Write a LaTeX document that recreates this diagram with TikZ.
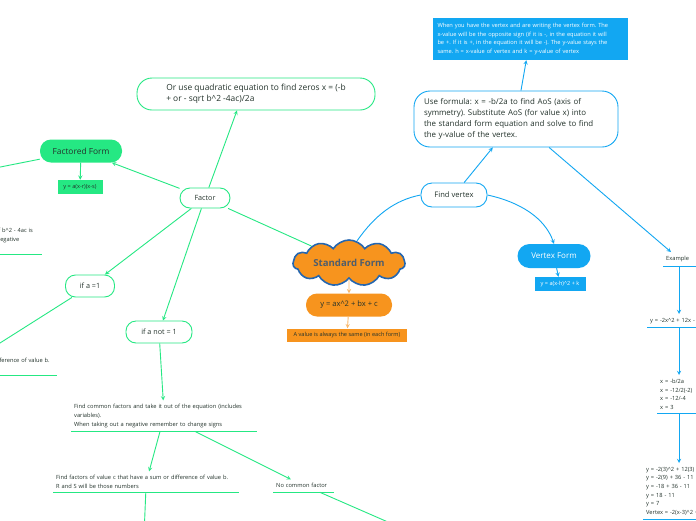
\documentclass[tikz,border=0pt]{standalone}
\usepackage{fontspec}
\setmainfont{Open Sans}
\usepackage{tikz}
\usetikzlibrary{shapes.symbols}
\definecolor{mapgreen}{HTML}{25E883}
\definecolor{mapblue}{HTML}{12A7F2}
\definecolor{maporange}{HTML}{F7941E}
\definecolor{mapedge}{HTML}{2466B0}
\definecolor{mapink}{HTML}{24332C}
\definecolor{mapgrey}{HTML}{4E5D6C}
\frenchspacing

\begin{document}
\begin{tikzpicture}[x=1pt,y=-1pt,
  gbox/.style={rectangle,draw=mapgreen,line width=0.9pt,fill=white,
    rounded corners=10pt,text=mapink,font=\fontsize{7.2}{9}\selectfont,inner sep=2pt},
  gfill/.style={rectangle,fill=mapgreen,rounded corners=11pt,text=mapink,
    font=\fontsize{8.4}{9}\selectfont,inner sep=2pt},
  bbox/.style={rectangle,draw=mapblue,line width=0.9pt,fill=white,
    rounded corners=11pt,text=mapink,inner sep=2pt},
  bfill/.style={rectangle,fill=mapblue,rounded corners=11pt,text=white,inner sep=2pt},
  obox/.style={rectangle,fill=maporange,rounded corners=11pt,text=mapink,inner sep=2pt},
  leaf/.style={rectangle,align=left,text=mapink,font=\fontsize{5.7}{8.6}\selectfont,
    inner xsep=3pt,inner ysep=4pt},
  gleaf/.style={leaf,append after command={(\tikzlastnode.south west)
    edge[draw=mapgreen,line width=0.9pt] (\tikzlastnode.south east)}},
  bleaf/.style={leaf,append after command={(\tikzlastnode.south west)
    edge[draw=mapblue,line width=0.9pt] (\tikzlastnode.south east)}},
  garr/.style={->,>=stealth,draw=mapgreen,line width=0.9pt},
  gline/.style={draw=mapgreen,line width=0.9pt},
  barr/.style={->,>=stealth,draw=mapblue,line width=0.9pt},
  bline/.style={draw=mapblue,line width=0.9pt},
  oarr/.style={->,>=stealth,draw=maporange!65,line width=0.9pt}]

  \path[use as bounding box,fill=white] (0,0) rectangle (696,520);
  \clip (0,0) rectangle (696,520);

  \node[cloud,cloud puffs=11,cloud puff arc=115,cloud ignores aspect,
    minimum width=112pt,minimum height=46pt,inner sep=0pt,
    fill=maporange,draw=mapedge,line width=1.6pt,text=mapgrey,
    font=\fontsize{9.6}{11}\selectfont\bfseries] (std) at (349,263) {Standard Form};
  \node[obox,font=\fontsize{7.6}{9}\selectfont,minimum width=86pt,minimum height=23pt] (seq) at (349,305) {y = ax\textasciicircum 2 + bx + c};
  \node[obox,rounded corners=0pt,font=\fontsize{5.6}{7}\selectfont,minimum width=120pt,minimum height=13pt] (sval) at (347,335) {A value is always the same (in each form)};

  \node[bfill,rounded corners=0pt,font=\fontsize{5.7}{8.6}\selectfont,
    minimum width=195pt,minimum height=42pt,text width=185pt,align=left] (vnote) at (530,39)
    {When you have the vertex and are writing the vertex form. The\\
     x-value will be the opposite sign (if it is -, in the equation it will\\
     be +. If it is +, in the equation it will be -). The y-value stays the\\
     same. h = x-value of vertex and k = y-value of vertex};
  \node[bbox,rounded corners=16pt,font=\fontsize{7.9}{11}\selectfont,
    minimum width=204pt,minimum height=56pt,text width=184pt,align=left] (useform) at (516,119)
    {Use formula: x = -b/2a to find AoS (axis of\\
     symmetry). Substitute AoS (for value x) into\\
     the standard form equation and solve to find\\
     the y-value of the vertex.};
  \node[bbox,font=\fontsize{7.6}{9}\selectfont,minimum width=66pt,minimum height=24pt] (findv) at (454,195) {Find vertex};
  \node[bfill,rounded corners=12pt,font=\fontsize{8}{9}\selectfont,minimum width=73pt,minimum height=24pt] (vform) at (554,256) {Vertex Form};
  \node[bfill,rounded corners=0pt,font=\fontsize{5.6}{7}\selectfont,minimum width=51pt,minimum height=14pt] (vformeq) at (560,284) {y = a(x-h)\textasciicircum 2 + k};

  \node[bleaf,text width=60pt,anchor=north west] (example) at (663,252) {Example};
  \node[bleaf,text width=70pt,anchor=north west] (ex1) at (647,314) {y = -2x\textasciicircum 2 + 12x - 11};
  \node[bleaf,text width=60pt,anchor=north west] (ex2) at (657,375)
    {x = -b/2a\\x = -12/2(-2)\\x = -12/-4\\x = 3};
  \node[bleaf,text width=70pt,anchor=north west] (ex3) at (643,463)
    {y = -2(3)\textasciicircum 2 + 12(3) - 11\\y = -2(9) + 36 - 11\\y = -18 + 36 - 11\\
     y = 18 - 11\\y = 7\\Vertex = -2(x-3)\textasciicircum 2 + 7};

  \node[gbox,minimum width=50pt,minimum height=20pt] (factor) at (205,198) {Factor};
  \node[gbox,rounded corners=15pt,font=\fontsize{8.4}{11.5}\selectfont,align=left,
    minimum width=238pt,minimum height=32pt] (quad) at (256,94)
    {Or use quadratic equation to find zeros x = (-b\\+ or - sqrt b\textasciicircum 2 -4ac)/2a};
  \node[gfill,minimum width=82pt,minimum height=23pt] (ff) at (81,151) {Factored Form};
  \node[gfill,rounded corners=0pt,font=\fontsize{5.6}{7}\selectfont,minimum width=45pt,minimum height=14pt] (ffeq) at (80,187) {y = a(x-r)(x-s)};
  \node[gleaf,text width=42pt,anchor=north east] (negleaf) at (42,224)
    {If b\textasciicircum 2 - 4ac is\\negative\\\mbox{}};
  \node[gbox,minimum width=49pt,minimum height=22pt] (ifone) at (90,286) {if a =1};
  \node[gbox,minimum width=66pt,minimum height=22pt] (ifnot) at (159,332) {if a not = 1};
  \node[gleaf,text width=176pt,anchor=north east] (diffleaf) at (57,354)
    {Find factors of value c that have a sum or difference of value b.\\R and S will be those numbers};
  \node[gleaf,text width=180pt,anchor=north west] (fcommon) at (71,400.4)
    {Find common factors and take it out of the equation (includes\\variables).\\
     When taking out a negative remember to change signs};
  \node[gleaf,text width=180pt,anchor=north west] (ffact) at (53,471.4)
    {Find factors of value c that have a sum or difference of value b.\\R and S will be those numbers};
  \node[gleaf,text width=55pt,anchor=north west] (nocommon) at (273,479.4) {No common factor};

  \coordinate (ffout) at (-40,175);
  \coordinate (oneout) at (-30,362);
  \coordinate (factout) at (143,560);
  \coordinate (noneout) at (420,536);

  \draw[gline] (std) -- (factor);
  \draw[garr] (factor) -- ([xshift=-19pt]quad.south);
  \draw[garr] (factor) -- (ff);
  \draw[garr] (factor) -- (ifone);
  \draw[garr] (factor) -- (ifnot);
  \draw[garr] (ff) -- (ffeq);
  \draw[garr] (ff) -- (ffout);
  \draw[garr] (ifone) -- (oneout);
  \draw[garr] (ifnot) -- (fcommon);
  \draw[garr] (fcommon) -- (ffact);
  \draw[garr] (fcommon) -- (nocommon);
  \draw[garr] (ffact) -- (factout);
  \draw[garr] ([xshift=16pt]nocommon.south) -- (noneout);

  \draw[bline] (std.70) .. controls (375,215) and (395,200) .. (findv.west);
  \draw[barr] (findv.east) .. controls (520,202) and (545,218) .. (vform.north);
  \draw[barr] (findv) -- (useform);
  \draw[barr] (useform) -- (vnote);
  \draw[barr] (useform) -- ([xshift=8pt]example.north west);
  \draw[barr] (vform) -- (vformeq);
  \draw[barr] ([xshift=16pt]example.south west) -- ([xshift=32pt]ex1.north west);
  \draw[barr] ([xshift=32pt]ex1.south west) -- ([xshift=22pt]ex2.north west);
  \draw[barr] ([xshift=22pt]ex2.south west) -- ([xshift=36pt]ex3.north west);

  \draw[oarr] (std) -- (seq);
  \draw[oarr] (seq) -- (sval);
\end{tikzpicture}
\end{document}
